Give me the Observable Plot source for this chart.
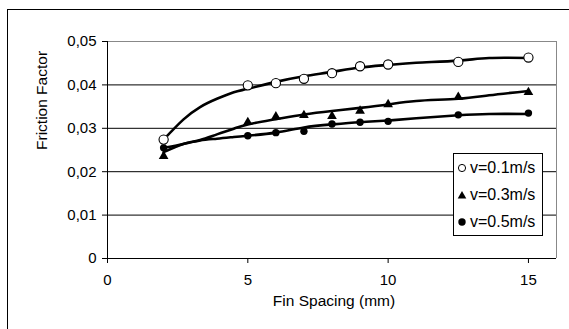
<!DOCTYPE html>
<html>
<head>
<meta charset="utf-8">
<script src="https://cdn.jsdelivr.net/npm/d3@7"></script>
<script src="https://cdn.jsdelivr.net/npm/@observablehq/plot@0.6"></script>
<style>
  html, body { margin: 0; padding: 0; background: white; overflow: hidden; }
  #wrap { position: relative; width: 569px; height: 329px; font-family: "Liberation Sans", Arial, sans-serif; }
  #frame { position: absolute; left: 7px; top: 9px; width: 700px; height: 500px; border: 1px solid #000; pointer-events: none; }
  #legend { position: absolute; left: 453px; top: 153px; width: 88px; height: 81px; border: 1px solid #000; background: white; font-size: 16px; }
  .item { position: absolute; left: 3px; height: 20px; display: flex; align-items: center; }
  .item svg { margin-right: 3px; }
</style>
</head>
<body>
<div id="wrap">
  <div id="chart"></div>
  <div id="legend"></div>
  <div id="frame"></div>
</div>
<script>
// Measured points
const spacing = [2, 5, 6, 7, 8, 9, 10, 12.5, 15];
const f01 = [0.0274, 0.0399, 0.0404, 0.0414, 0.0427, 0.0443, 0.0447, 0.0453, 0.0463];
const f03 = [0.0236, 0.0314, 0.0327, 0.0330, 0.0328, 0.0340, 0.0355, 0.0372, 0.0383];
const f05 = [0.0255, 0.0283, 0.0290, 0.0293, 0.0310, 0.0314, 0.0316, 0.0331, 0.0335];

// Trend curves
const trendX = [2, 2.7, 3.3, 3.9, 4.5, 5, 6, 7, 8, 9, 10, 11, 12.5, 13.6, 15];
const t01 = [0.0274, 0.0320, 0.0349, 0.0368, 0.0383, 0.0391, 0.0407, 0.0420, 0.0430, 0.0440, 0.0446, 0.0451, 0.0456, 0.0462, 0.0462];
const t03 = [0.0245, 0.0264, 0.0273, 0.0286, 0.0299, 0.0309, 0.0321, 0.0332, 0.0340, 0.0347, 0.0355, 0.0363, 0.0368, 0.0376, 0.0386];
const t05 = [0.0255, 0.0264, 0.0272, 0.0276, 0.0280, 0.0283, 0.0290, 0.0302, 0.0309, 0.0314, 0.0318, 0.0323, 0.0330, 0.0333, 0.0333];

const seriesNames = ["v=0.1m/s", "v=0.3m/s", "v=0.5m/s"];
const xTicks = [0, 5, 10, 15];
const yTicks = [0, 0.01, 0.02, 0.03, 0.04, 0.05];
const gridTicks = [0.01, 0.02, 0.03, 0.04];

const pts = (vals, s) => spacing.map((x, i) => ({x, y: vals[i], s}));
const trend = (vals, s) => trendX.map((x, i) => ({x, y: vals[i], s}));
const points01 = pts(f01, seriesNames[0]);
const points03 = pts(f03, seriesNames[1]);
const points05 = pts(f05, seriesNames[2]);
const trends = [...trend(t01, seriesNames[0]), ...trend(t03, seriesNames[1]), ...trend(t05, seriesNames[2])];

const fmt = d => d === 0 ? "0" : d.toFixed(2).replace(".", ",");

const chart = Plot.plot({
  width: 569,
  height: 329,
  marginLeft: 107,
  marginRight: 13,
  marginTop: 41,
  marginBottom: 71,
  style: {fontFamily: "'Liberation Sans', Arial, sans-serif", fontSize: "15px", background: "transparent", color: "#000"},
  x: {domain: [0, 16], ticks: xTicks, tickSize: 5, tickPadding: 11, label: null},
  y: {domain: [0, 0.05], ticks: yTicks, tickFormat: fmt, tickSize: 5, tickPadding: 6, label: null},
  marks: [
    Plot.ruleY(gridTicks, {stroke: "#000", strokeWidth: 1}),
    Plot.ruleY([0.05], {stroke: "#888", strokeWidth: 1}),
    Plot.ruleX([16], {stroke: "#888", strokeWidth: 1}),
    Plot.ruleY([0], {stroke: "#000", strokeWidth: 1}),
    Plot.ruleX([0], {stroke: "#000", strokeWidth: 1}),
    Plot.line(trends, {x: "x", y: "y", z: "s", curve: "natural", stroke: "#000", strokeWidth: 2.6}),
    Plot.dot(points01, {x: "x", y: "y", r: 4.6, fill: "white", stroke: "#000", strokeWidth: 1.1}),
    Plot.dot(points03, {x: "x", y: "y", r: 3.6, symbol: "triangle", fill: "#000", stroke: "none"}),
    Plot.dot(points05, {x: "x", y: "y", r: 3.7, fill: "#000", stroke: "none"}),
    Plot.text(["Fin Spacing (mm)"], {frameAnchor: "bottom", dy: 47, dx: 2, fontSize: 15.5, fill: "#000"}),
    Plot.text(["Friction Factor"], {frameAnchor: "left", rotate: -90, dx: -65, fontSize: 15.5, fill: "#000"})
  ]
});
document.getElementById("chart").appendChild(chart);

// Legend
const legend = document.getElementById("legend");
const symbols = [
  '<circle cx="5" cy="5" r="3.6" fill="white" stroke="black" stroke-width="1"/>',
  '<path d="M5,1 L9.3,8.6 L0.7,8.6 Z" fill="black"/>',
  '<circle cx="5" cy="5" r="3.7" fill="black"/>'
];
const tops = [4, 31, 58];
seriesNames.forEach((name, i) => {
  const d = document.createElement("div");
  d.className = "item";
  d.style.top = tops[i] + "px";
  d.innerHTML = `<svg width="10" height="10">${symbols[i]}</svg><span>${name}</span>`;
  legend.appendChild(d);
});
</script>
</body>
</html>
